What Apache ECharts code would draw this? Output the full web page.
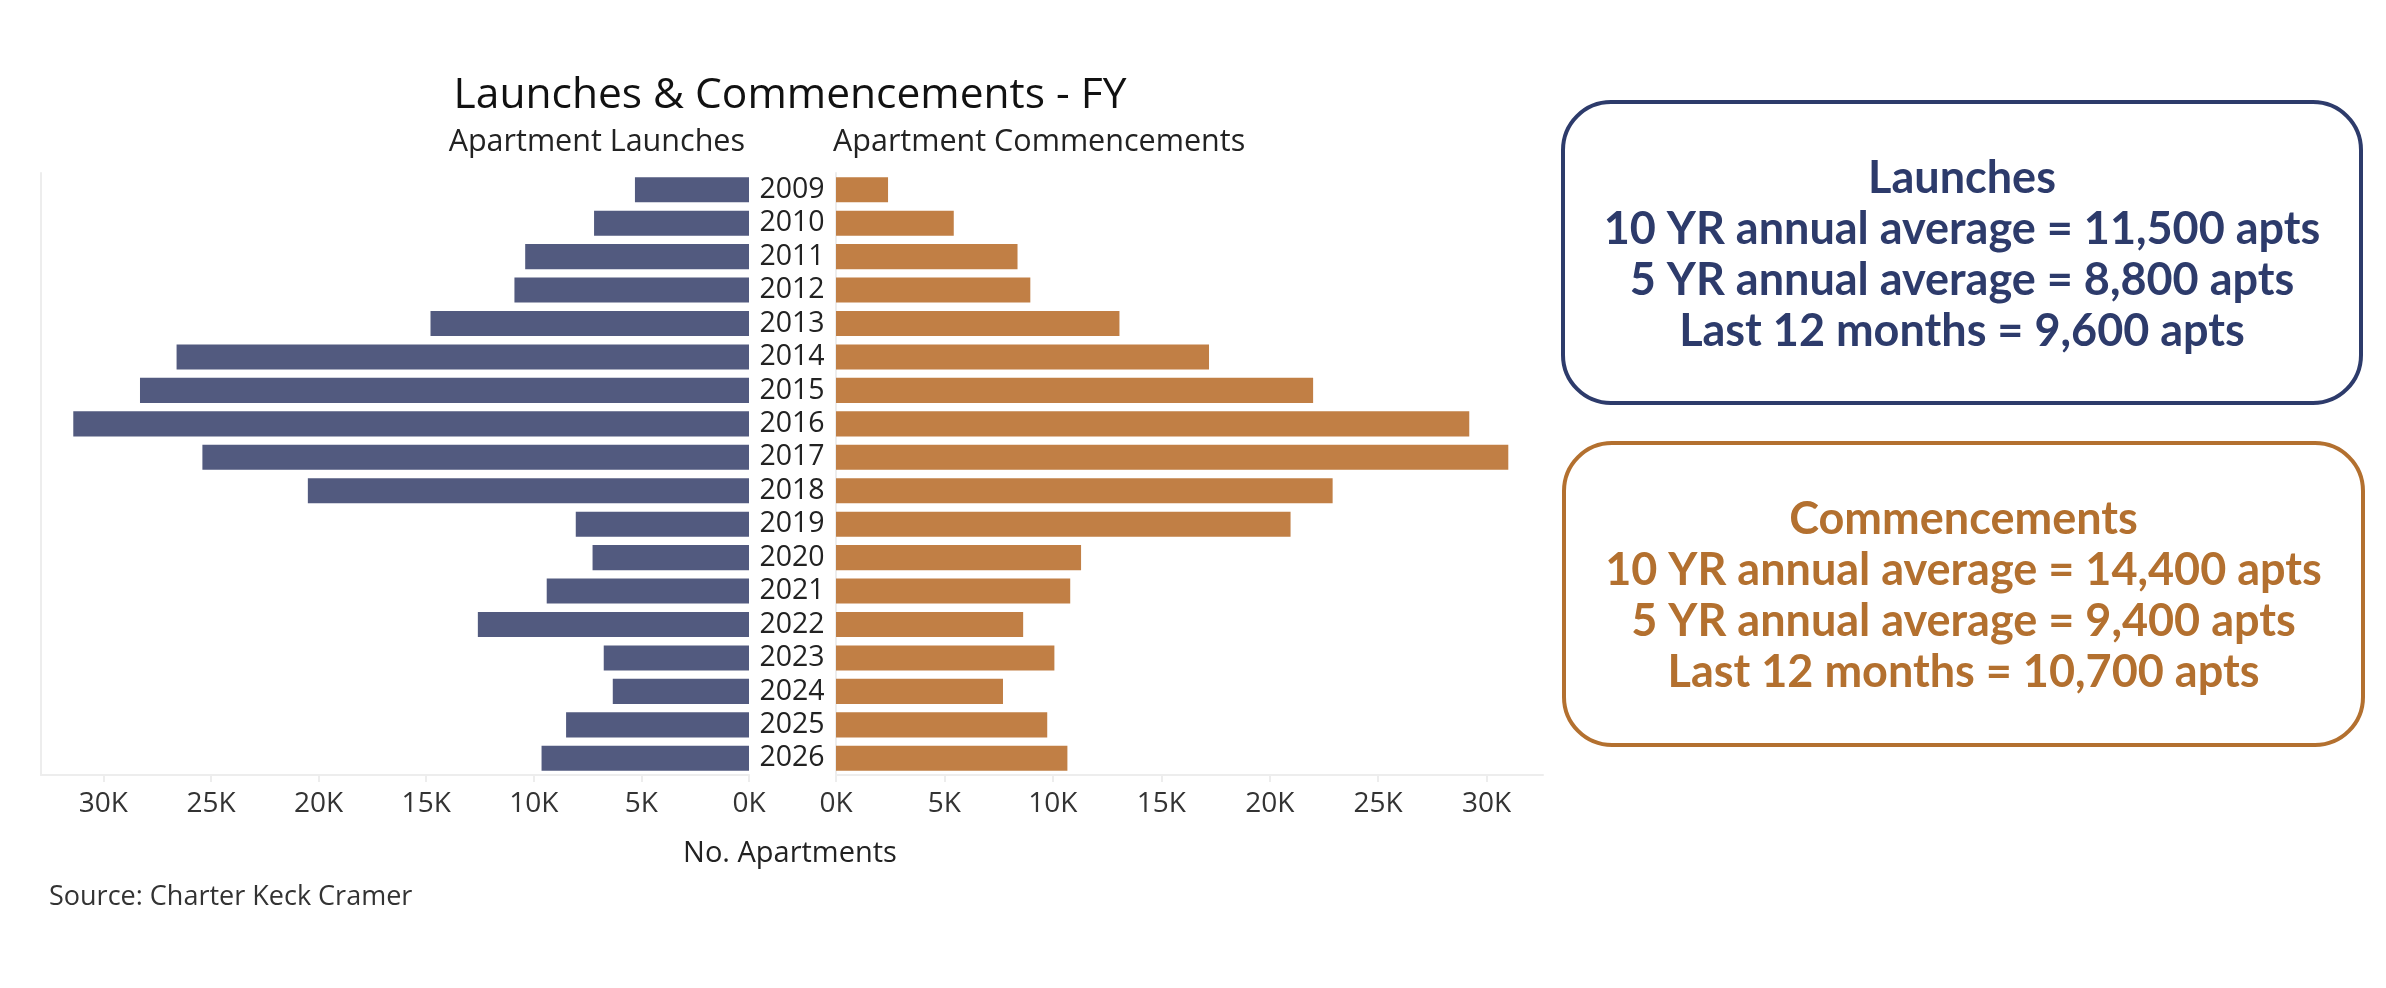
<!DOCTYPE html>
<html>
<head>
<meta charset="utf-8">
<title>Launches & Commencements - FY</title>
<script src="https://cdn.jsdelivr.net/npm/echarts@6/dist/echarts.min.js"></script>
<style>
  html, body { margin: 0; padding: 0; background: #fff; }
  #chart { width: 2386px; height: 988px; }
</style>
</head>
<body>
<div id="chart"></div>
<script>
// 数据
var years = ['2009', '2010', '2011', '2012', '2013', '2014', '2015', '2016', '2017',
  '2018', '2019', '2020', '2021', '2022', '2023', '2024', '2025', '2026'];
var launches = [5300, 7200, 10400, 10900, 14800, 26600, 28300, 31400, 25400,
  20500, 8050, 7270, 9400, 12600, 6750, 6330, 8500, 9640];
var commencements = [2400, 5430, 8370, 8960, 13070, 17200, 22000, 29200, 31000,
  22900, 20960, 11300, 10800, 8630, 10070, 7700, 9740, 10670];
var tickValues = [0, 5000, 10000, 15000, 20000, 25000, 30000];

var launchLines = ['Launches', '10 YR annual average = 11,500 apts',
  '5 YR annual average = 8,800 apts', 'Last 12 months = 9,600 apts'];
var commenceLines = ['Commencements', '10 YR annual average = 14,400 apts',
  '5 YR annual average = 9,400 apts', 'Last 12 months = 10,700 apts'];

var FONT = '"Open Sans", sans-serif';
var NAVY = '#525a7f', ORANGE = '#c17f45';
var LINE = '#ededed';

function kFmt(v) { return (v / 1000) + 'K'; }

function valueAxis(gridIndex, inverse, max) {
  return {
    type: 'value', gridIndex: gridIndex, inverse: inverse,
    min: 0, max: max,
    splitLine: { show: false },
    axisLine: { show: true, lineStyle: { color: LINE, width: 2 } },
    axisTick: { show: true, length: 7, customValues: tickValues,
      lineStyle: { color: LINE, width: 2 } },
    axisLabel: { customValues: tickValues, formatter: kFmt, margin: 15,
      color: '#333', fontSize: 28, fontFamily: FONT }
  };
}

function statBox(x, y, w, h, color, lines) {
  return {
    type: 'group',
    children: [{
      type: 'rect',
      shape: { x: x, y: y, width: w, height: h, r: 48 },
      style: { fill: '#fff', stroke: color, lineWidth: 4 }
    }, {
      type: 'text',
      x: x + w / 2, y: y + h / 2 + 2,
      style: {
        text: lines.join('\n'), fill: color,
        font: 'bold 45px Lato, sans-serif', lineHeight: 51,
        align: 'center', verticalAlign: 'middle'
      }
    }]
  };
}

var chart = echarts.init(document.getElementById('chart'), null, { renderer: 'canvas' });

chart.setOption({
  backgroundColor: '#fff',
  animation: false,
  title: [
    { text: 'Launches & Commencements - FY', left: 790, top: 74, textAlign: 'center',
      padding: 0, textStyle: { color: '#111', fontSize: 42.5, fontWeight: 'normal', fontFamily: FONT } },
    { text: 'Apartment Launches', left: 745, top: 127, textAlign: 'right', padding: 0,
      textStyle: { color: '#222', fontSize: 30.5, fontWeight: 'normal', fontFamily: FONT } },
    { text: 'Apartment Commencements', left: 833, top: 127, padding: 0,
      textStyle: { color: '#222', fontSize: 30.5, fontWeight: 'normal', fontFamily: FONT } },
    { text: 'No. Apartments', left: 790, top: 839, textAlign: 'center', padding: 0,
      textStyle: { color: '#222', fontSize: 29, fontWeight: 'normal', fontFamily: FONT } },
    { text: 'Source: Charter Keck Cramer', left: 49, top: 884, padding: 0,
      textStyle: { color: '#333', fontSize: 27, fontWeight: 'normal', fontFamily: FONT } }
  ],
  grid: [
    { left: 41, right: 2386 - 749, top: 173, bottom: 988 - 775 },
    { left: 836, right: 2386 - 1543, top: 173, bottom: 988 - 775 }
  ],
  xAxis: [
    valueAxis(0, true, 32900),
    valueAxis(1, false, 32600)
  ],
  yAxis: [
    { // 年份标签
      type: 'category', gridIndex: 0, data: years, inverse: true, position: 'right',
      axisLine: { show: false }, axisTick: { show: false },
      axisLabel: { interval: 0, align: 'center', margin: 43, color: '#222', fontSize: 28.5, fontFamily: FONT }
    },
    { // 左侧边框线
      type: 'category', gridIndex: 0, data: years, inverse: true, position: 'left',
      axisLine: { show: true, lineStyle: { color: LINE, width: 2 } },
      axisTick: { show: false }, axisLabel: { show: false }
    },
    {
      type: 'category', gridIndex: 1, data: years, inverse: true, position: 'left',
      axisLine: { show: true, lineStyle: { color: LINE, width: 2 } },
      axisTick: { show: false }, axisLabel: { show: false }
    }
  ],
  series: [
    { name: 'Apartment Launches', type: 'bar', xAxisIndex: 0, yAxisIndex: 0,
      data: launches, barCategoryGap: '25%', itemStyle: { color: NAVY } },
    { name: 'Apartment Commencements', type: 'bar', xAxisIndex: 1, yAxisIndex: 2,
      data: commencements, barCategoryGap: '25%', itemStyle: { color: ORANGE } }
  ],
  graphic: [
    statBox(1563, 102, 798, 301, '#2d3b6b', launchLines),
    statBox(1564, 443, 799, 302, '#b3702f', commenceLines)
  ]
});
</script>
</body>
</html>
